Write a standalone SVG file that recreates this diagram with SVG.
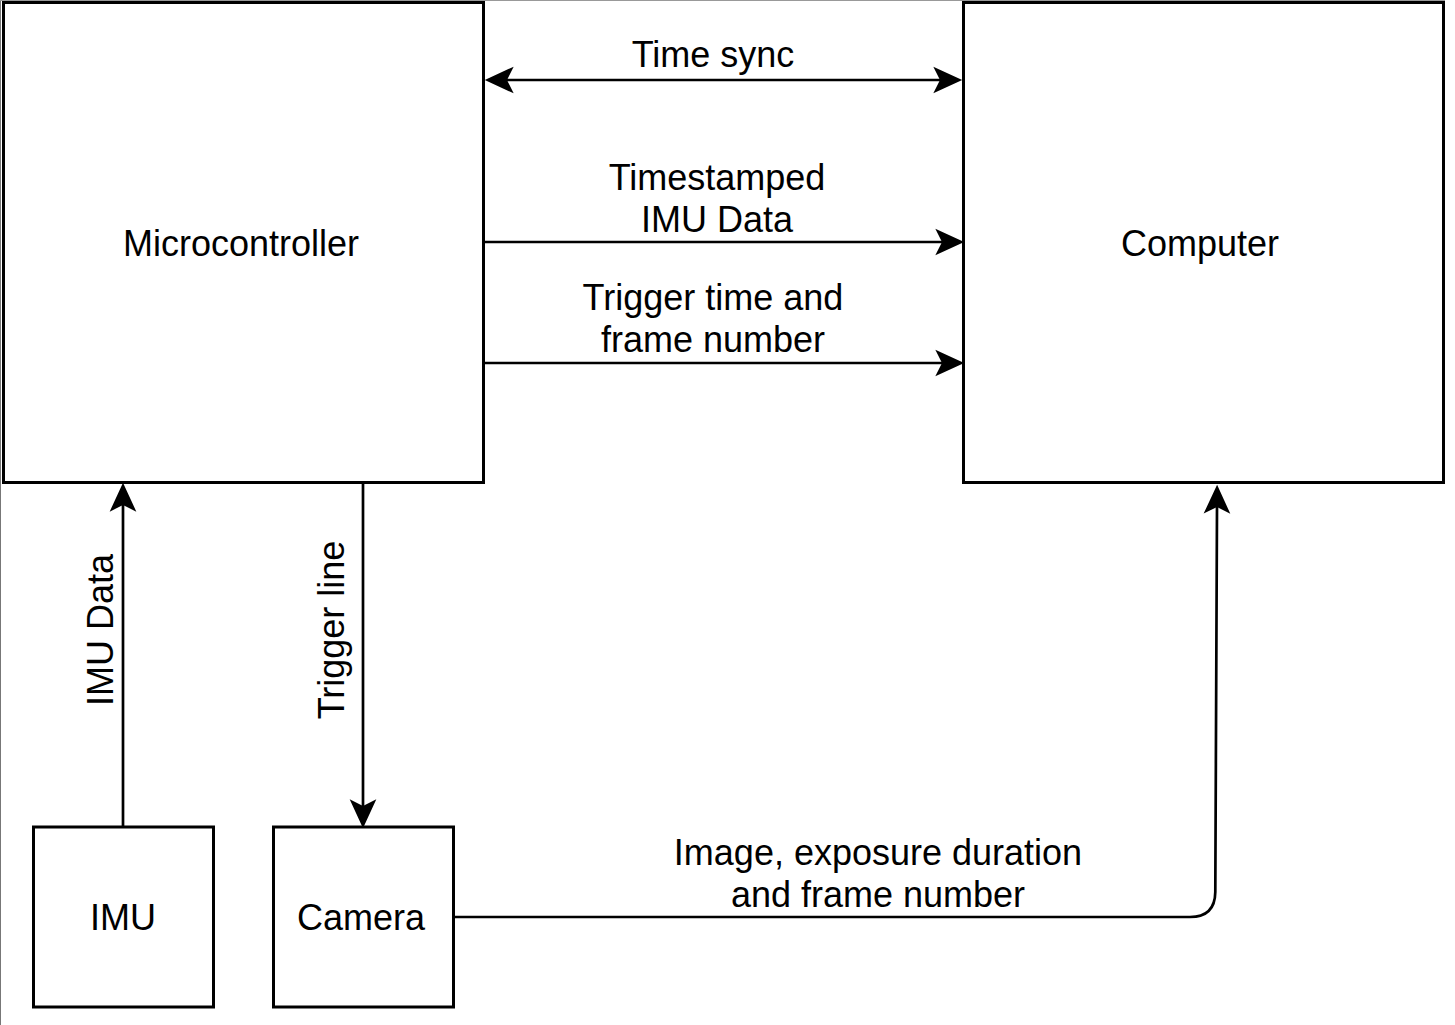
<svg xmlns="http://www.w3.org/2000/svg" width="1455" height="1025" viewBox="0 0 1455 1025">
  <style>
    .box { fill: #ffffff; stroke: #000000; stroke-width: 3; }
    .lbl { font-family: "Liberation Sans", Arial, sans-serif; font-size: 36px; fill: #000000; text-anchor: middle; }
    .edge { fill: none; stroke: #000000; stroke-width: 2.7; }
  </style>
  <defs>
    <marker id="arr" markerUnits="userSpaceOnUse" markerWidth="30" markerHeight="30" viewBox="0 -13 27 26" refX="6" refY="0" orient="auto-start-reverse">
      <path d="M0,-12 L26,0 L0,12 L6,0 Z" fill="#000000"/>
    </marker>
  </defs>
  <rect x="0" y="0" width="1455" height="1025" fill="#ffffff"/>
  <line x1="0.5" y1="0" x2="0.5" y2="1025" stroke="#777777" stroke-width="1"/>
  <line x1="0" y1="0.5" x2="1445" y2="0.5" stroke="#999999" stroke-width="1"/>

  <g id="microcontroller">
    <rect class="box" x="3.5" y="2.5" width="480" height="480"/>
    <text class="lbl" x="241" y="256">Microcontroller</text>
  </g>
  <g id="computer">
    <rect class="box" x="963.5" y="2.5" width="480" height="480"/>
    <text class="lbl" x="1200" y="256">Computer</text>
  </g>
  <g id="imu">
    <rect class="box" x="33.5" y="827" width="180" height="180"/>
    <text class="lbl" x="123" y="930">IMU</text>
  </g>
  <g id="camera">
    <rect class="box" x="273.5" y="827" width="180" height="180"/>
    <text class="lbl" x="361" y="930">Camera</text>
  </g>

  <g id="connectors">
    <line class="edge" x1="507" y1="80" x2="940" y2="80" marker-start="url(#arr)" marker-end="url(#arr)"/>
    <text class="lbl" x="713" y="67">Time sync</text>

    <line class="edge" x1="485" y1="242" x2="942" y2="242" marker-end="url(#arr)"/>
    <text class="lbl" x="717" y="190">Timestamped</text>
    <text class="lbl" x="717" y="232">IMU Data</text>

    <line class="edge" x1="485" y1="363" x2="942" y2="363" marker-end="url(#arr)"/>
    <text class="lbl" x="713" y="310">Trigger time and</text>
    <text class="lbl" x="713" y="352">frame number</text>

    <line class="edge" x1="123" y1="826" x2="123" y2="505" marker-end="url(#arr)"/>
    <text class="lbl" transform="translate(113,630) rotate(-90)" x="0" y="0">IMU Data</text>

    <line class="edge" x1="363" y1="484" x2="363" y2="806" marker-end="url(#arr)"/>
    <text class="lbl" transform="translate(344,630) rotate(-90)" x="0" y="0">Trigger line</text>

    <path class="edge" d="M455,917 H1190 Q1215,917 1215.3,892 L1217,507" marker-end="url(#arr)"/>
    <text class="lbl" x="878" y="865">Image, exposure duration</text>
    <text class="lbl" x="878" y="907">and frame number</text>
  </g>
</svg>
